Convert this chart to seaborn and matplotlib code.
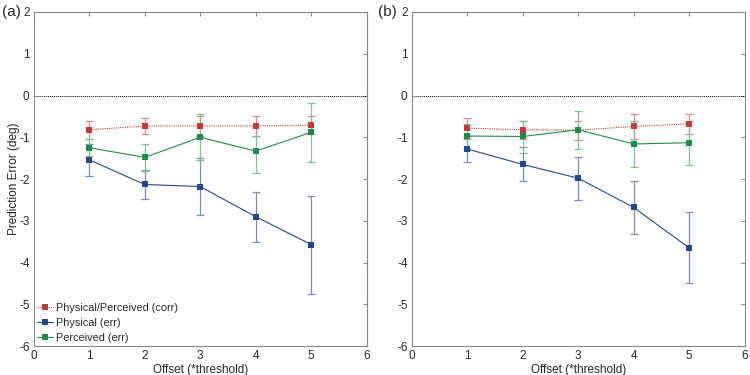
import pandas as pd
import matplotlib
matplotlib.use('Agg')
import matplotlib.pyplot as plt
import seaborn as sns

offsets = [1, 2, 3, 4, 5]
series_names = ['Physical/Perceived (corr)', 'Physical (err)', 'Perceived (err)']

# panel (a): means, upper and lower error bar ends
a_corr = [-0.82, -0.73, -0.73, -0.73, -0.71]
a_corr_hi = [-0.62, -0.53, -0.48, -0.50, -0.50]
a_corr_lo = [-1.04, -0.93, -0.97, -0.97, -0.92]
a_phys = [-1.54, -2.13, -2.18, -2.90, -3.57]
a_phys_hi = [-1.15, -1.78, -1.50, -2.30, -2.40]
a_phys_lo = [-1.92, -2.48, -2.87, -3.50, -4.74]
a_perc = [-1.25, -1.48, -1.00, -1.33, -0.88]
a_perc_hi = [-1.05, -1.17, -0.45, -0.97, -0.18]
a_perc_lo = [-1.45, -1.80, -1.55, -1.85, -1.58]

# panel (b)
b_corr = [-0.78, -0.82, -0.83, -0.74, -0.68]
b_corr_hi = [-0.53, -0.60, -0.60, -0.45, -0.45]
b_corr_lo = [-1.03, -1.05, -1.07, -1.03, -0.91]
b_phys = [-1.28, -1.65, -1.98, -2.68, -3.65]
b_phys_hi = [-0.97, -1.23, -1.47, -2.05, -2.80]
b_phys_lo = [-1.60, -2.05, -2.50, -3.32, -4.50]
b_perc = [-0.97, -0.98, -0.82, -1.16, -1.13]
b_perc_hi = [-0.68, -0.60, -0.38, -0.62, -0.60]
b_perc_lo = [-1.27, -1.37, -1.27, -1.70, -1.67]

colors = {'Physical/Perceived (corr)': '#c23b3b',
          'Physical (err)': '#27468a',
          'Perceived (err)': '#1e8c4c'}
err_colors = {'Physical/Perceived (corr)': '#d98a8a',
              'Physical (err)': '#7a8db5',
              'Perceived (err)': '#7fbf94'}
dashes = {'Physical/Perceived (corr)': (1, 1),
          'Physical (err)': '',
          'Perceived (err)': ''}

sns.set_style('white')
plt.rcParams['font.family'] = ['Liberation Sans', 'DejaVu Sans']
plt.rcParams['font.size'] = 8.5
plt.rcParams['axes.unicode_minus'] = False


def build_frame(means, his, los):
    rows = []
    for name, m, h, l in zip(series_names, means, his, los):
        for x, mv, hv, lv in zip(offsets, m, h, l):
            rows.append({'offset': x, 'error': mv, 'hi': hv, 'lo': lv, 'series': name})
    return pd.DataFrame(rows)


panels = [
    ('(a)', build_frame([a_corr, a_phys, a_perc], [a_corr_hi, a_phys_hi, a_perc_hi],
                        [a_corr_lo, a_phys_lo, a_perc_lo])),
    ('(b)', build_frame([b_corr, b_phys, b_perc], [b_corr_hi, b_phys_hi, b_perc_hi],
                        [b_corr_lo, b_phys_lo, b_perc_lo])),
]

fig = plt.figure(figsize=(7.5, 3.75), dpi=100)
lefts = [0.045, 0.549]
tag_x = [0.003, 0.504]

for i, (tag, df) in enumerate(panels):
    ax = fig.add_axes([lefts[i], 0.077, 0.444, 0.891])
    ax.axhline(0, color='black', linestyle=(0, (1, 1)), linewidth=0.7, zorder=1)

    for name in series_names:
        d = df[df['series'] == name]
        ax.errorbar(d['offset'], d['error'],
                    yerr=[d['error'] - d['lo'], d['hi'] - d['error']],
                    fmt='none', ecolor=err_colors[name], elinewidth=0.9,
                    capsize=3, capthick=0.9, zorder=2)

    sns.lineplot(data=df, x='offset', y='error', hue='series', style='series',
                 hue_order=series_names, style_order=series_names,
                 palette=colors, dashes=dashes, markers={n: 's' for n in series_names},
                 markersize=5, markeredgewidth=0, linewidth=0.8,
                 legend=(i == 0), ax=ax, zorder=3)

    ax.set_xlim(0, 6)
    ax.set_ylim(-6, 2)
    ax.set_xticks(range(0, 7))
    ax.set_yticks(range(-6, 3))
    ax.set_xlabel('Offset (*threshold)', labelpad=1)
    ax.set_ylabel('Prediction Error (deg)' if i == 0 else '')
    ax.yaxis.set_label_coords(-0.042, 0.5)
    ax.tick_params(direction='in', length=3, pad=3, top=True, right=True,
                   labelsize=8.5, color='#888888')
    for s in ax.spines.values():
        s.set_color('#888888')
        s.set_linewidth(0.8)
    fig.text(tag_x[i], 0.968, tag, fontsize=11, ha='left', va='center')

    if i == 0:
        leg = ax.legend(loc='lower left', frameon=False, fontsize=7.8,
                        handlelength=1.5, handletextpad=0.3, labelspacing=0.45,
                        borderaxespad=0.0, borderpad=0.3)

fig.savefig('out.png', dpi=100)
